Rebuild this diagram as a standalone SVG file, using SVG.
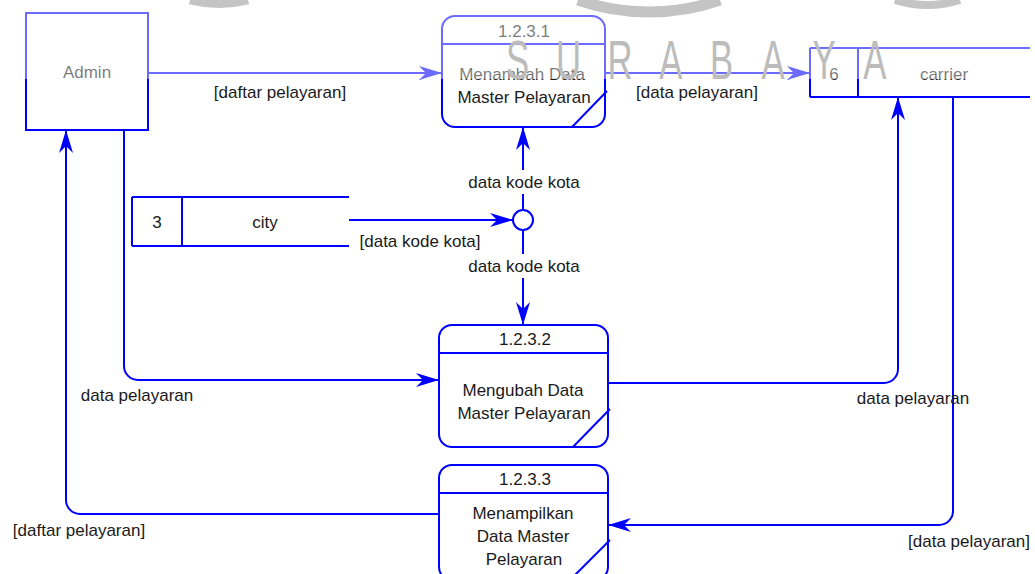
<svg xmlns="http://www.w3.org/2000/svg" width="1035" height="574" viewBox="0 0 1035 574">
  <defs>
    <marker id="arrow" markerUnits="userSpaceOnUse" markerWidth="26" markerHeight="16" viewBox="-24 -8 26 16" refX="0" refY="0" orient="auto">
      <path d="M0,0 L-23,-7 L-16,0 L-23,7 Z" fill="#0000ff"/>
    </marker>
    <style>
      .box { fill: #ffffff; stroke: #0000ff; stroke-width: 2; }
      .edge { fill: none; stroke: #0000ff; stroke-width: 2; }
      .flow { fill: none; stroke: #0000ff; stroke-width: 2; marker-end: url(#arrow); }
      .txt { font-family: "Liberation Sans", Arial, sans-serif; font-size: 17px; fill: #1a1a1a; text-anchor: middle; }
      .mark { font-family: "Liberation Sans", Arial, sans-serif; font-size: 56px; fill: #bcbcbc; text-anchor: middle; }
    </style>
  </defs>
  <rect width="1035" height="574" fill="#ffffff"/>

  <!-- external entity -->
  <g id="admin">
    <rect class="box" x="26" y="13" width="122" height="117"/>
    <text class="txt" x="87" y="78">Admin</text>
  </g>

  <!-- processes -->
  <g id="p1231">
    <rect class="box" x="442" y="16" width="163" height="111" rx="13" ry="13"/>
    <line class="edge" x1="442" y1="44" x2="605" y2="44"/>
    <line class="edge" x1="572" y1="127" x2="607" y2="91"/>
    <text class="txt" x="524" y="37">1.2.3.1</text>
    <text class="txt" x="522" y="80">Menambah Data</text>
    <text class="txt" x="524" y="103">Master Pelayaran</text>
  </g>
  <g id="p1232">
    <rect class="box" x="439" y="325" width="169" height="122" rx="13" ry="13"/>
    <line class="edge" x1="439" y1="353" x2="608" y2="353"/>
    <line class="edge" x1="573" y1="447" x2="610" y2="409"/>
    <text class="txt" x="525" y="345">1.2.3.2</text>
    <text class="txt" x="523" y="396">Mengubah Data</text>
    <text class="txt" x="524" y="419">Master Pelayaran</text>
  </g>
  <g id="p1233">
    <rect class="box" x="439" y="465" width="169" height="115" rx="13" ry="13"/>
    <line class="edge" x1="439" y1="493" x2="608" y2="493"/>
    <line class="edge" x1="572" y1="578" x2="610" y2="540"/>
    <text class="txt" x="525" y="485">1.2.3.3</text>
    <text class="txt" x="523" y="519">Menampilkan</text>
    <text class="txt" x="523" y="542">Data Master</text>
    <text class="txt" x="524" y="565">Pelayaran</text>
  </g>

  <!-- data stores -->
  <g id="store-carrier">
    <line class="edge" x1="810" y1="48" x2="1030" y2="48"/>
    <line class="edge" x1="810" y1="97" x2="1030" y2="97"/>
    <line class="edge" x1="810" y1="48" x2="810" y2="97"/>
    <line class="edge" x1="858" y1="48" x2="858" y2="97"/>
    <text class="txt" x="834" y="80">6</text>
    <text class="txt" x="944" y="80">carrier</text>
  </g>
  <g id="store-city">
    <line class="edge" x1="132" y1="197" x2="349" y2="197"/>
    <line class="edge" x1="132" y1="246" x2="349" y2="246"/>
    <line class="edge" x1="132" y1="197" x2="132" y2="246"/>
    <line class="edge" x1="182" y1="197" x2="182" y2="246"/>
    <text class="txt" x="157" y="228">3</text>
    <text class="txt" x="265" y="228">city</text>
  </g>

  <!-- junction -->
  <g id="junction">
    <circle class="box" cx="523" cy="220" r="10"/>
  </g>

  <!-- data flows -->
  <g id="connectors">
    <path class="flow" d="M148,73 H442"/>
    <path class="flow" d="M605,73 H810"/>
    <path class="flow" d="M349,220 H513"/>
    <path class="flow" d="M523,210 V127"/>
    <path class="flow" d="M523,230 V325"/>
    <path class="flow" d="M124,130 V366 A14,14 0 0 0 138,380 H439"/>
    <path class="flow" d="M608,383 H884 A14,14 0 0 0 898,369 V97"/>
    <path class="flow" d="M953,97 V511 A14,14 0 0 1 939,525 H608"/>
    <path class="flow" d="M439,514 H80 A14,14 0 0 1 66,500 V130"/>
  </g>

  <!-- flow labels -->
  <g id="labels">
    <text class="txt" x="280" y="98">[daftar pelayaran]</text>
    <text class="txt" x="697" y="98">[data pelayaran]</text>
    <rect x="466" y="170" width="116" height="24" fill="#ffffff"/>
    <text class="txt" x="524" y="188">data kode kota</text>
    <rect x="466" y="254" width="116" height="24" fill="#ffffff"/>
    <text class="txt" x="524" y="272">data kode kota</text>
    <text class="txt" x="420" y="247">[data kode kota]</text>
    <text class="txt" x="137" y="401">data pelayaran</text>
    <text class="txt" x="913" y="404">data pelayaran</text>
    <text class="txt" x="79" y="536">[daftar pelayaran]</text>
    <text class="txt" x="969" y="547">[data pelayaran]</text>
  </g>

  <!-- watermark layer -->
  <g id="watermark">
    <rect x="0" y="0" width="1035" height="79" fill="#ffffff" opacity="0.42"/>
    <path d="M190,0 A120,120 0 0 0 248,0" fill="none" stroke="#c4c4c4" stroke-width="9"/>
    <path d="M578,0 A216,216 0 0 0 720,0" fill="none" stroke="#c4c4c4" stroke-width="11"/>
    <path d="M895,0 A110,110 0 0 0 960,0" fill="none" stroke="#c4c4c4" stroke-width="8"/>
    <g transform="translate(0,79) scale(0.62,1)">
      <text class="mark" x="835 917 1000 1082 1164 1247 1329 1411" y="0">SURABAYA</text>
    </g>
  </g>
</svg>
